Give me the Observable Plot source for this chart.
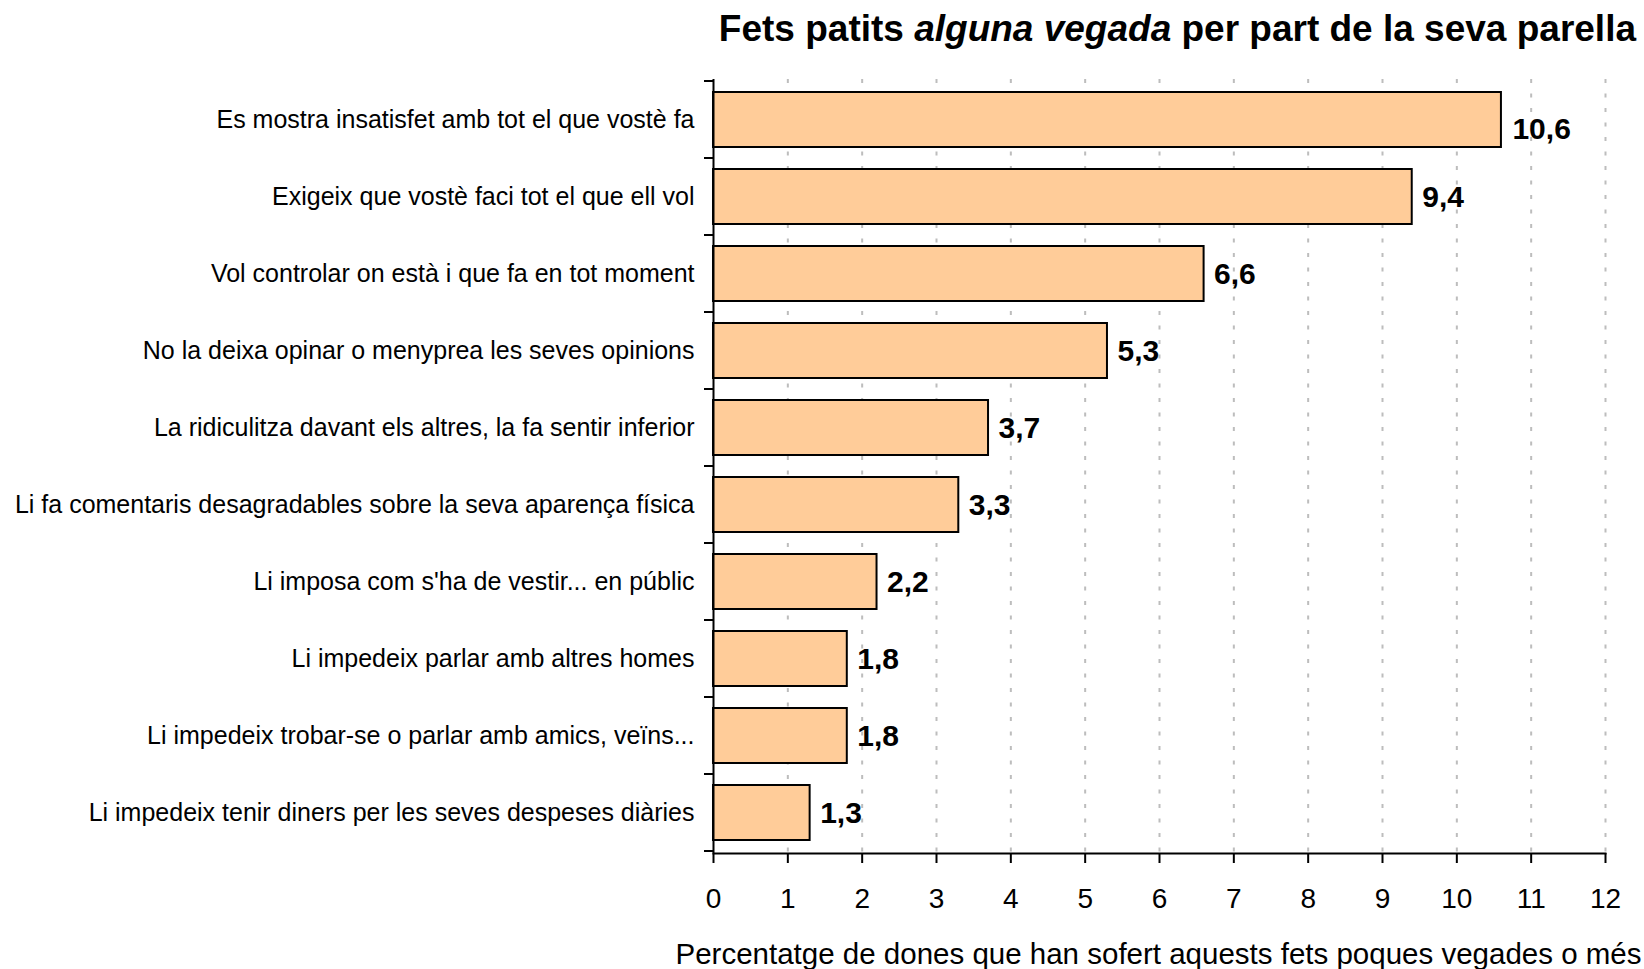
<!DOCTYPE html>
<html><head><meta charset="utf-8">
<script src="https://cdn.jsdelivr.net/npm/d3@7"></script>
<script src="https://cdn.jsdelivr.net/npm/@observablehq/plot@0.6"></script>
<style>
body{margin:0;background:#fff;font-family:"Liberation Sans",Arial,sans-serif;}
#title{height:60px;line-height:58px;text-align:right;padding-right:8px;font-weight:bold;font-size:37px;color:#000;white-space:nowrap;}
#chart svg{display:block;}
</style></head><body>
<div id="title">Fets patits <i>alguna vegada</i> per part de la seva parella</div>
<div id="chart"></div>
<script>
const categories = [
  "Es mostra insatisfet amb tot el que vostè fa",
  "Exigeix que vostè faci tot el que ell vol",
  "Vol controlar on està i que fa en tot moment",
  "No la deixa opinar o menyprea les seves opinions",
  "La ridiculitza davant els altres, la fa sentir inferior",
  "Li fa comentaris desagradables sobre la seva aparença física",
  "Li imposa com s'ha de vestir... en públic",
  "Li impedeix parlar amb altres homes",
  "Li impedeix trobar-se o parlar amb amics, veïns...",
  "Li impedeix tenir diners per les seves despeses diàries"
];
const values = [10.6, 9.4, 6.6, 5.3, 3.7, 3.3, 2.2, 1.8, 1.8, 1.3];
const valueLabels = ["10,6", "9,4", "6,6", "5,3", "3,7", "3,3", "2,2", "1,8", "1,8", "1,3"];
const xTicks = [0, 1, 2, 3, 4, 5, 6, 7, 8, 9, 10, 11, 12];
const gridTicks = [1, 2, 3, 4, 5, 6, 7, 8, 9, 10, 11, 12];
const xLabel = "Percentatge de dones que han sofert aquests fets poques vegades o més";

const data = categories.map((c, i) => ({category: c, value: values[i], label: valueLabels[i]}));

const plot = Plot.plot({
  width: 1644, height: 909,
  marginTop: 19, marginBottom: 116, marginLeft: 713, marginRight: 39,
  style: {fontFamily: "'Liberation Sans', Arial, sans-serif", background: "#fff", color: "#000"},
  x: {domain: [0, 12]},
  y: {domain: categories, paddingInner: 0.28, paddingOuter: 0.14},
  marks: [
    Plot.ruleX(gridTicks, {stroke: "#bdbdbd", strokeWidth: 2, strokeDasharray: "4,10.5"}),
    Plot.barX(data, {y: "category", x: "value", fill: "#ffcc99", stroke: "#000", strokeWidth: 2}),
    Plot.text(data.slice(0, 1), {x: "value", y: "category", text: "label", textAnchor: "start", dx: 11, dy: 9, fontSize: 30, fontWeight: "bold"}),
    Plot.text(data.slice(1), {x: "value", y: "category", text: "label", textAnchor: "start", dx: 10, fontSize: 30, fontWeight: "bold"}),
    Plot.axisX({ticks: xTicks, tickSize: 10, tickPadding: 25, fontSize: 28, label: null, strokeWidth: 2}),
    Plot.axisY({tickSize: 0, tickPadding: 19, fontSize: 25, label: null}),
    Plot.ruleX([0], {stroke: "#000", strokeWidth: 2}),
    Plot.frame({anchor: "bottom", stroke: "#000", strokeWidth: 2}),
    Plot.text([xLabel], {text: d => d, frameAnchor: "bottom-right", dx: 36, dy: 101, fontSize: 29.5, textAnchor: "end", lineAnchor: "middle"})
  ]
});

// category boundary ticks on the y axis, positioned from the library's scales
const ys = plot.scale("y");
const xs = plot.scale("x");
const x0 = xs.apply(0);
const bounds = categories.map(c => ys.apply(c) + ys.bandwidth / 2 - ys.step / 2);
bounds.push(ys.apply(categories[categories.length - 1]) + ys.bandwidth / 2 + ys.step / 2);
d3.select(plot).append("g")
  .attr("stroke", "#000").attr("stroke-width", 2)
  .selectAll("line").data(bounds).join("line")
  .attr("x1", x0 - 9).attr("x2", x0)
  .attr("y1", d => d).attr("y2", d => d);

document.getElementById("chart").appendChild(plot);
</script>
</body></html>
